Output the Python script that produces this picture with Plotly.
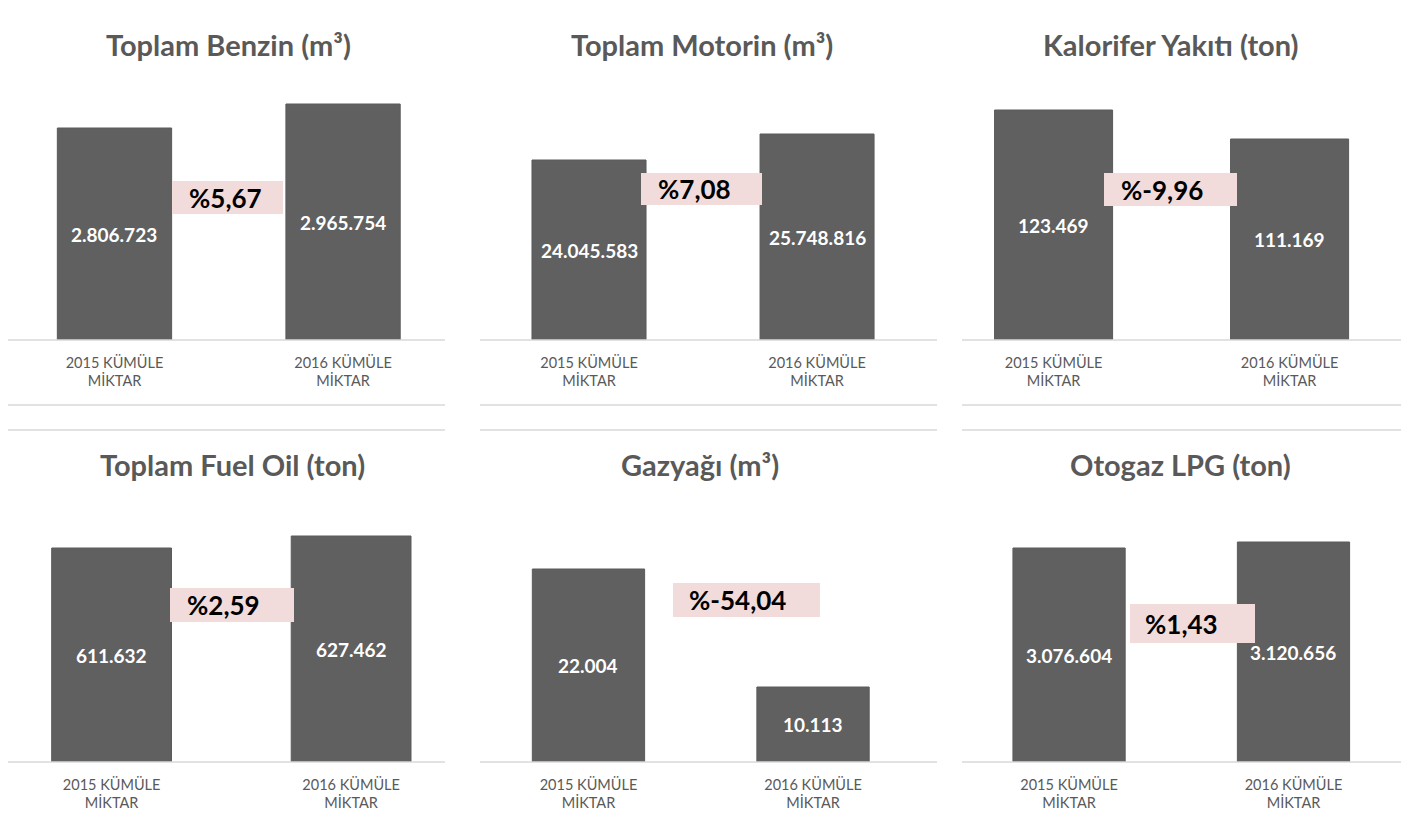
import plotly.graph_objects as go

W, H = 1421, 823
OFF = 8  # default page margin of the html body

# ---- data ----
titles = ["Toplam Benzin (m³)", "Toplam Motorin (m³)", "Kalorifer Yakıtı (ton)",
          "Toplam Fuel Oil (ton)", "Gazyağı (m³)", "Otogaz LPG (ton)"]
categories = ["2015 KÜMÜLE<br>MİKTAR", "2016 KÜMÜLE<br>MİKTAR"]
benzin = [2806723, 2965754]
motorin = [24045583, 25748816]
kalorifer = [123469, 111169]
fuel_oil = [611632, 627462]
gazyagi = [22004, 10113]
lpg = [3076604, 3120656]
series = [benzin, motorin, kalorifer, fuel_oil, gazyagi, lpg]
changes = ["%5,67", "%7,08", "%-9,96", "%2,59", "%-54,04", "%1,43"]

# ---- layout (pixels) ----
panel_x = [(5, 445), (480, 937), (962, 1401), (5, 445), (480, 937), (962, 1401)]
row_base = [340, 762]
row_top = [90, 512]
top_lines = [7, 430]
title_y = [44, 464]
x_ranges = [(-0.479, 1.446), (-0.478, 1.526), (-0.388, 1.472),
            (-0.445, 1.392), (-0.483, 1.552), (-0.477, 1.479)]
y_ranges = [(1401900, 3058500), (12254000, 28631200), (25917, 131952),
            (329330, 659120), (2555, 27748), (1505400, 3340900)]
title_x = [228, 702, 1171, 232, 700, 1180]
boxes = [(172, 283, 181, 214), (641, 762, 173, 205), (1104, 1237, 173, 206),
         (170, 294, 588, 622), (673, 820, 583, 617), (1130, 1255, 604, 643)]
text_pad = [15, 15, 15, 15, 14, 13]

GREY_LINE = "#d9d9d9"
TXT = "#595959"
FONT = "Lato, 'Open Sans', sans-serif"

def fx(px):
    return (px - OFF) / W

def fy(py):
    return 1 - (py - OFF) / H

def fmt(v):
    return f"{v:,}".replace(",", ".")

fig = go.Figure()
layout = dict(width=W, height=H, margin=dict(l=0, r=0, t=0, b=0),
              paper_bgcolor="white", plot_bgcolor="white", showlegend=False,
              font=dict(family=FONT, color=TXT))
shapes = []
annotations = []

for i, vals in enumerate(series):
    n = "" if i == 0 else str(i + 1)
    row = i // 3
    x0, x1 = panel_x[i]
    lo, hi = x_ranges[i]
    dx0 = x0
    if dx0 < OFF:
        unit = (x1 - x0) / (hi - lo)
        lo = lo + (OFF - x0) / unit
        dx0 = OFF
    ymin = y_ranges[i][0]
    fig.add_trace(go.Bar(
        x=categories, y=vals, xaxis="x" + n, yaxis="y" + n,
        width=0.5,
        marker=dict(color="#606060", line=dict(color="#5a5a5a", width=1)),
        hoverinfo="skip",
    ))
    # value labels, centred in the visible part of each bar
    for c, v in zip(categories, vals):
        annotations.append(dict(text="<b>" + fmt(v) + "</b>", xref="x" + n, yref="y" + n,
                                x=c, y=(v + ymin) / 2, showarrow=False,
                                xanchor="center", yanchor="middle",
                                font=dict(family=FONT, size=19, color="white")))
    layout["xaxis" + n] = dict(
        domain=[fx(dx0), fx(x1)], anchor="y" + n, range=[lo, hi],
        type="category", showline=False,
        showgrid=False, zeroline=False, ticks="", fixedrange=True,
        ticklabelstandoff=12,
        tickfont=dict(family=FONT, size=14.5, color=TXT),
    )
    layout["yaxis" + n] = dict(
        domain=[fy(row_base[row]), fy(row_top[row])], anchor="x" + n,
        range=list(y_ranges[i]), visible=False, showgrid=False, fixedrange=True,
    )
    # separator lines and baseline
    for ly in (top_lines[row], row_base[row]) + ((405,) if row == 0 else ()):
        shapes.append(dict(type="line", xref="paper", yref="paper",
                           x0=fx(x0), x1=fx(x1), y0=fy(ly), y1=fy(ly),
                           line=dict(color=GREY_LINE, width=1.5)))
    # title
    annotations.append(dict(text="<b>" + titles[i] + "</b>", xref="paper", yref="paper",
                            x=fx(title_x[i]), y=fy(title_y[row]), xanchor="center", yanchor="middle",
                            showarrow=False, font=dict(family=FONT, size=29, color=TXT)))
    # pink change box
    bx0, bx1, by0, by1 = boxes[i]
    shapes.append(dict(type="rect", xref="paper", yref="paper",
                       x0=fx(bx0), x1=fx(bx1), y0=fy(by1), y1=fy(by0),
                       fillcolor="#f2dcdb", line=dict(width=0), layer="above"))
    annotations.append(dict(text="<b>" + changes[i] + "</b>", xref="paper", yref="paper",
                            x=fx(bx0 + text_pad[i]), y=fy((by0 + by1) / 2),
                            xanchor="left", yanchor="middle", showarrow=False,
                            font=dict(family=FONT, size=26, color="black")))

layout["shapes"] = shapes
layout["annotations"] = annotations
fig.update_layout(**layout)
fig.write_html("out.html")
